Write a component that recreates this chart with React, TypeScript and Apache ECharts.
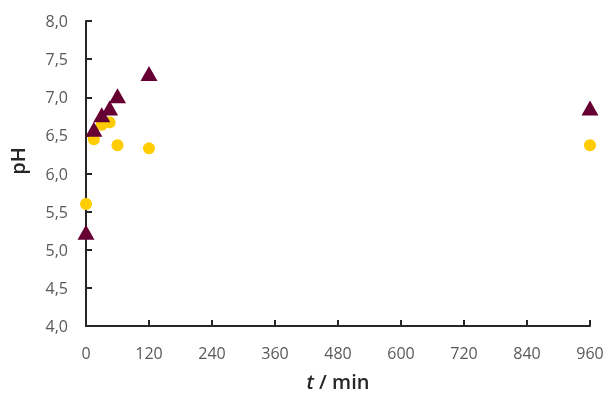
import React, { useEffect, useRef } from "react";
import * as echarts from "echarts";

const timesMin = [0, 15, 30, 45, 60, 120, 960];
const seriesTriangle = [5.23, 6.58, 6.77, 6.86, 7.02, 7.31, 6.86];
const seriesCircle = [5.6, 6.45, 6.64, 6.67, 6.37, 6.33, 6.37];
const xTicks = [0, 120, 240, 360, 480, 600, 720, 840, 960];
const yTicks = [4.0, 4.5, 5.0, 5.5, 6.0, 6.5, 7.0, 7.5, 8.0];
const yName = "pH";

const FONT = "'Open Sans', 'Noto Sans', sans-serif";

export default function App() {
  const ref = useRef<HTMLDivElement>(null);
  useEffect(() => {
    if (!ref.current) return;
    const chart = echarts.init(ref.current, undefined, { renderer: "svg" });
    chart.setOption({
      animation: false,
      grid: {
        left: 86,
        right: 16,
        top: 21,
        bottom: 70,
        containLabel: false,
        outerBoundsMode: "none",
      },
      graphic: [
        {
          type: "text",
          x: 17,
          y: 161,
          rotation: Math.PI / 2,
          style: {
            text: yName,
            fill: "#262626",
            fontSize: 20,
            fontWeight: 600,
            fontFamily: FONT,
            align: "center",
            verticalAlign: "middle",
          },
        },
      ],
      xAxis: {
        type: "value",
        min: xTicks[0],
        max: xTicks[xTicks.length - 1],
        interval: 120,
        splitLine: { show: false },
        axisLine: { show: true, onZero: false, lineStyle: { color: "#262626", width: 2 } },
        axisTick: { show: true, inside: true, length: 6, lineStyle: { color: "#262626", width: 2 } },
        axisLabel: { color: "#595959", fontSize: 16, fontFamily: FONT, margin: 19 },
        name: "{i|t} / min",
        nameLocation: "middle",
        nameGap: 45,
        nameTextStyle: {
          color: "#262626",
          fontSize: 20,
          fontWeight: 600,
          fontFamily: FONT,
          rich: {
            i: { fontStyle: "italic", fontSize: 20, fontWeight: 600, fontFamily: FONT, color: "#262626" },
          },
        },
      },
      yAxis: {
        type: "value",
        min: yTicks[0],
        max: yTicks[yTicks.length - 1],
        interval: 0.5,
        splitLine: { show: false },
        axisLine: { show: true, onZero: false, lineStyle: { color: "#262626", width: 2 } },
        axisTick: { show: true, inside: true, length: 6, lineStyle: { color: "#262626", width: 2 } },
        axisLabel: {
          color: "#595959",
          fontSize: 16,
          fontFamily: FONT,
          margin: 18,
          formatter: (v: number) => v.toFixed(1).replace(".", ","),
        },
      },
      series: [
        {
          type: "scatter",
          symbol: "circle",
          symbolSize: 12,
          itemStyle: { color: "#FFCC00", opacity: 1 },
          data: timesMin.map((t, i) => [t, seriesCircle[i]]),
          z: 2,
        },
        {
          type: "scatter",
          symbol: "triangle",
          symbolSize: [17, 15],
          itemStyle: { color: "#660033", opacity: 1 },
          data: timesMin.map((t, i) => [t, seriesTriangle[i]]),
          z: 3,
        },
      ],
    });
    return () => chart.dispose();
  }, []);
  return (
    <div
      ref={ref}
      style={{ position: "fixed", left: 0, top: 0, width: 606, height: 396 }}
    />
  );
}
